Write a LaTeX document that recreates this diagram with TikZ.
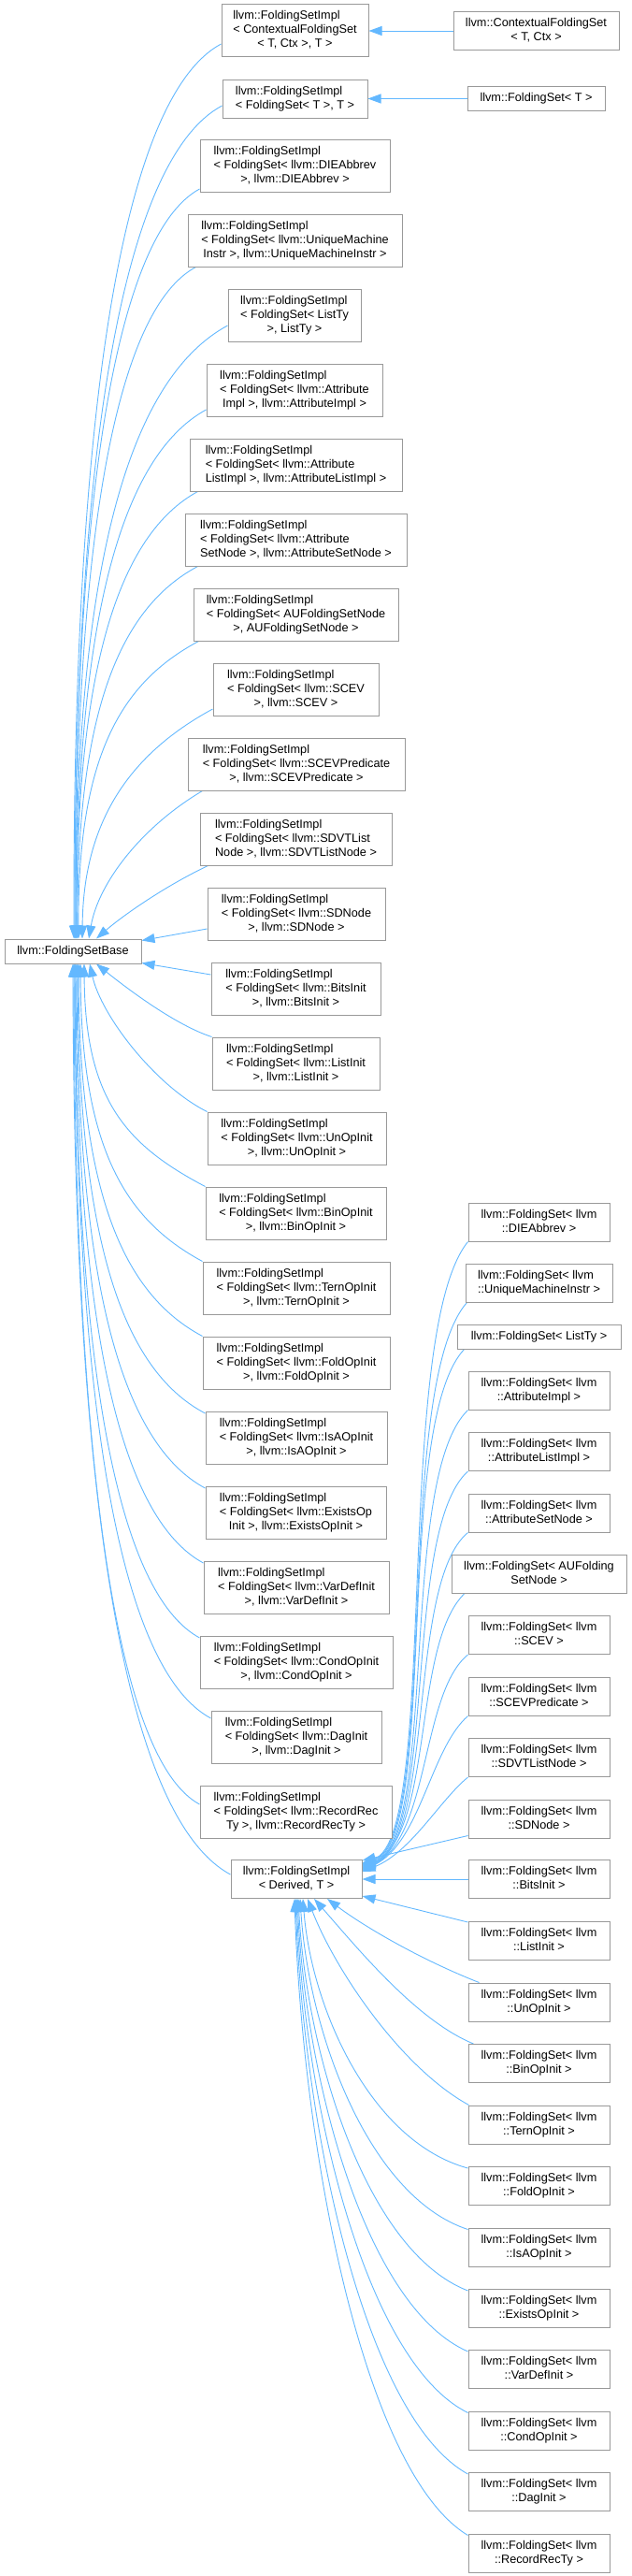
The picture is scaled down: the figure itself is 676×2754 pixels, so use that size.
\documentclass[tikz,border=0pt]{standalone}
\usepackage{fontspec}
\setmainfont{Liberation Sans}
\usetikzlibrary{arrows.meta}
\definecolor{boxgray}{HTML}{999999}
\definecolor{edgeblue}{HTML}{63B8FF}
\pgfdeclarelayer{bg}
\pgfsetlayers{bg,main}
\newcommand\lastl[1]{\multicolumn{1}{@{}c@{}}{#1}}
\newcommand\bx[6]{\node[box, minimum width=#4pt, minimum height=#5pt] (#1) at (#2,#3) {\begin{tabular}{@{}l@{}}#6\end{tabular}};}
\begin{document}
\begin{tikzpicture}[x=1pt,y=-1pt,
  box/.style={draw=boxgray, line width=1pt, fill=white, inner xsep=4pt, inner ysep=1pt, font=\fontsize{12.7}{15}\selectfont, text=black},
  edge/.style={draw=edgeblue, line width=0.9pt, -{Triangle[length=14pt,width=10pt]}}]
\useasboundingbox (0,0) rectangle (676,2754);

% base
\bx{base}{78}{1017}{146}{26}{llvm::FoldingSetBase}
% top right
\bx{cfs}{573.5}{33}{177}{41}{llvm::ContextualFoldingSet\\\lastl{< T, Ctx >}}
\bx{fst}{573.5}{105.5}{147}{26}{llvm::FoldingSet< T >}

% middle column
\bx{m1}{315.5}{33}{157}{56}{llvm::FoldingSetImpl\\< ContextualFoldingSet\\\lastl{< T, Ctx >, T >}}
\bx{m2}{315.5}{105.5}{155}{41}{llvm::FoldingSetImpl\\\lastl{< FoldingSet< T >, T >}}
\bx{m3}{315.5}{177}{203}{56}{llvm::FoldingSetImpl\\< FoldingSet< llvm::DIEAbbrev\\\lastl{>, llvm::DIEAbbrev >}}
\bx{m4}{315.5}{257}{229}{56}{llvm::FoldingSetImpl\\< FoldingSet< llvm::UniqueMachine\\\lastl{Instr >, llvm::UniqueMachineInstr >}}
\bx{m5}{315}{337}{142}{56}{llvm::FoldingSetImpl\\< FoldingSet< ListTy\\\lastl{>, ListTy >}}
\bx{m6}{315}{417}{188}{56}{llvm::FoldingSetImpl\\< FoldingSet< llvm::Attribute\\\lastl{Impl >, llvm::AttributeImpl >}}
\bx{m7}{316.5}{497}{227}{56}{llvm::FoldingSetImpl\\< FoldingSet< llvm::Attribute\\\lastl{ListImpl >, llvm::AttributeListImpl >}}
\bx{m8}{316.5}{577}{237}{56}{llvm::FoldingSetImpl\\< FoldingSet< llvm::Attribute\\\lastl{SetNode >, llvm::AttributeSetNode >}}
\bx{m9}{316.5}{657}{219}{56}{llvm::FoldingSetImpl\\< FoldingSet< AUFoldingSetNode\\\lastl{>, AUFoldingSetNode >}}
\bx{m10}{316.5}{737}{177}{56}{llvm::FoldingSetImpl\\< FoldingSet< llvm::SCEV\\\lastl{>, llvm::SCEV >}}
\bx{m11}{317}{817}{232}{56}{llvm::FoldingSetImpl\\< FoldingSet< llvm::SCEVPredicate\\\lastl{>, llvm::SCEVPredicate >}}
\bx{m12}{316.5}{897}{205}{56}{llvm::FoldingSetImpl\\< FoldingSet< llvm::SDVTList\\\lastl{Node >, llvm::SDVTListNode >}}
\bx{m13}{317}{977}{190}{56}{llvm::FoldingSetImpl\\< FoldingSet< llvm::SDNode\\\lastl{>, llvm::SDNode >}}
\bx{m14}{316.5}{1057}{181}{56}{llvm::FoldingSetImpl\\< FoldingSet< llvm::BitsInit\\\lastl{>, llvm::BitsInit >}}
\bx{m15}{316.5}{1137}{179}{56}{llvm::FoldingSetImpl\\< FoldingSet< llvm::ListInit\\\lastl{>, llvm::ListInit >}}
\bx{m16}{317.5}{1217}{191}{56}{llvm::FoldingSetImpl\\< FoldingSet< llvm::UnOpInit\\\lastl{>, llvm::UnOpInit >}}
\bx{m17}{316.5}{1297}{193}{56}{llvm::FoldingSetImpl\\< FoldingSet< llvm::BinOpInit\\\lastl{>, llvm::BinOpInit >}}
\bx{m18}{317}{1377}{200}{56}{llvm::FoldingSetImpl\\< FoldingSet< llvm::TernOpInit\\\lastl{>, llvm::TernOpInit >}}
\bx{m19}{317}{1457}{200}{56}{llvm::FoldingSetImpl\\< FoldingSet< llvm::FoldOpInit\\\lastl{>, llvm::FoldOpInit >}}
\bx{m20}{317}{1537}{194}{56}{llvm::FoldingSetImpl\\< FoldingSet< llvm::IsAOpInit\\\lastl{>, llvm::IsAOpInit >}}
\bx{m21}{316.5}{1617}{193}{56}{llvm::FoldingSetImpl\\< FoldingSet< llvm::ExistsOp\\\lastl{Init >, llvm::ExistsOpInit >}}
\bx{m22}{317}{1697}{198}{56}{llvm::FoldingSetImpl\\< FoldingSet< llvm::VarDefInit\\\lastl{>, llvm::VarDefInit >}}
\bx{m23}{317}{1777}{206}{56}{llvm::FoldingSetImpl\\< FoldingSet< llvm::CondOpInit\\\lastl{>, llvm::CondOpInit >}}
\bx{m24}{317}{1857}{182}{56}{llvm::FoldingSetImpl\\< FoldingSet< llvm::DagInit\\\lastl{>, llvm::DagInit >}}
\bx{m25}{316.5}{1937}{205}{56}{llvm::FoldingSetImpl\\< FoldingSet< llvm::RecordRec\\\lastl{Ty >, llvm::RecordRecTy >}}
\bx{d}{317}{2009}{140}{41}{llvm::FoldingSetImpl\\\lastl{< Derived, T >}}

% right column
\bx{r1}{576.5}{1306.5}{151}{41}{llvm::FoldingSet< llvm\\\lastl{::DIEAbbrev >}}
\bx{r2}{576.5}{1371.5}{157}{41}{llvm::FoldingSet< llvm\\\lastl{::UniqueMachineInstr >}}
\bx{r3}{576.5}{1429}{175}{26}{llvm::FoldingSet< ListTy >}
\bx{r4}{576.5}{1486.5}{151}{41}{llvm::FoldingSet< llvm\\\lastl{::AttributeImpl >}}
\bx{r5}{576.5}{1552}{151}{41}{llvm::FoldingSet< llvm\\\lastl{::AttributeListImpl >}}
\bx{r6}{576.5}{1617.5}{151}{41}{llvm::FoldingSet< llvm\\\lastl{::AttributeSetNode >}}
\bx{r7}{576.5}{1683}{187}{41}{llvm::FoldingSet< AUFolding\\\lastl{SetNode >}}
\bx{r8}{576.5}{1748}{151}{41}{llvm::FoldingSet< llvm\\\lastl{::SCEV >}}
\bx{r9}{576.5}{1813.5}{151}{41}{llvm::FoldingSet< llvm\\\lastl{::SCEVPredicate >}}
\bx{r10}{576.5}{1879}{151}{41}{llvm::FoldingSet< llvm\\\lastl{::SDVTListNode >}}
\bx{r11}{576.5}{1944.5}{151}{41}{llvm::FoldingSet< llvm\\\lastl{::SDNode >}}
\bx{r12}{576.5}{2009}{151}{41}{llvm::FoldingSet< llvm\\\lastl{::BitsInit >}}
\bx{r13}{576.5}{2075}{151}{41}{llvm::FoldingSet< llvm\\\lastl{::ListInit >}}
\bx{r14}{576.5}{2140.5}{151}{41}{llvm::FoldingSet< llvm\\\lastl{::UnOpInit >}}
\bx{r15}{576.5}{2206}{151}{41}{llvm::FoldingSet< llvm\\\lastl{::BinOpInit >}}
\bx{r16}{576.5}{2271.5}{151}{41}{llvm::FoldingSet< llvm\\\lastl{::TernOpInit >}}
\bx{r17}{576.5}{2337}{151}{41}{llvm::FoldingSet< llvm\\\lastl{::FoldOpInit >}}
\bx{r18}{576.5}{2402.5}{151}{41}{llvm::FoldingSet< llvm\\\lastl{::IsAOpInit >}}
\bx{r19}{576.5}{2468}{151}{41}{llvm::FoldingSet< llvm\\\lastl{::ExistsOpInit >}}
\bx{r20}{576.5}{2533}{151}{41}{llvm::FoldingSet< llvm\\\lastl{::VarDefInit >}}
\bx{r21}{576.5}{2598.5}{151}{41}{llvm::FoldingSet< llvm\\\lastl{::CondOpInit >}}
\bx{r22}{576.5}{2664}{151}{41}{llvm::FoldingSet< llvm\\\lastl{::DagInit >}}
\bx{r23}{576.5}{2729.5}{151}{41}{llvm::FoldingSet< llvm\\\lastl{::RecordRecTy >}}

\begin{pgfonlayer}{bg}
% top right
\draw[edge] (cfs.west) -- (m1.east);
\draw[edge] (fst.west) -- (m2.east);
% middle upper -> base
\draw[edge] ([yshift=-14pt]m1.west) .. controls (134,102) and (78,420) .. ([xshift=1pt]base.north);
\draw[edge] ([yshift=-7.5pt]m2.west) .. controls (135,168) and (79,460) .. ([xshift=2pt]base.north);
\draw[edge] ([yshift=-25pt]m3.west) .. controls (127,249) and (79,515) .. ([xshift=2pt]base.north);
\draw[edge] ([xshift=9pt]m4.south west) .. controls (126,330) and (80,565) .. ([xshift=3pt]base.north);
\draw[edge] ([yshift=-11pt]m5.west) .. controls (138,405) and (80,604) .. ([xshift=3pt]base.north);
\draw[edge] ([yshift=-21pt]m6.west) .. controls (131,487) and (81,659) .. ([xshift=4pt]base.north);
\draw[edge] ([xshift=9pt]m7.south west) .. controls (128,571) and (81,712) .. ([xshift=4pt]base.north);
\draw[edge] ([xshift=14pt]m8.south west) .. controls (128,650) and (82,761) .. ([xshift=5pt]base.north);
\draw[edge] ([xshift=6pt]m9.south west) .. controls (129,730) and (83,809) .. ([xshift=6pt]base.north);
\draw[edge] ([yshift=-21pt]m10.west) .. controls (137,807) and (89,880) .. ([xshift=10pt]base.north);
\draw[edge] ([xshift=16pt]m11.south west) .. controls (150,885) and (105,945) .. ([xshift=17pt]base.north);
\draw[edge] ([xshift=9pt]m12.south west) .. controls (175,948) and (130,980) .. ([xshift=25pt]base.north);
\draw[edge] ([yshift=-16pt]m13.west) -- ([yshift=-2pt]base.north east);
% middle lower -> base
\draw[edge] ([yshift=15pt]m14.west) -- ([yshift=1pt]base.south east);
\draw[edge] (m15.north west) .. controls (185,1095) and (130,1052) .. ([xshift=25pt]base.south);
\draw[edge] (m16.north west) .. controls (165,1160) and (108,1085) .. ([xshift=18pt]base.south);
\draw[edge] (m17.north west) .. controls (135,1224) and (91,1176) .. ([xshift=12pt]base.south);
\draw[edge] (m18.north west) .. controls (132,1303) and (87,1225) .. ([xshift=8pt]base.south);
\draw[edge] (m19.north west) .. controls (131,1383) and (85,1274) .. ([xshift=6pt]base.south);
\draw[edge] ([yshift=26pt]m20.west) .. controls (130,1464) and (84,1323) .. ([xshift=5pt]base.south);
\draw[edge] ([yshift=26pt]m21.west) .. controls (130,1543) and (83,1372) .. ([xshift=4pt]base.south);
\draw[edge] ([yshift=26pt]m22.west) .. controls (129,1623) and (82,1421) .. ([xshift=3pt]base.south);
\draw[edge] ([yshift=26pt]m23.west) .. controls (127,1704) and (81,1470) .. ([xshift=2pt]base.south);
\draw[edge] ([yshift=20pt]m24.west) .. controls (131,1786) and (81,1522) .. ([xshift=2pt]base.south);
\draw[edge] ([yshift=8pt]m25.west) .. controls (126,1882) and (80,1578) .. ([xshift=1pt]base.south);
\draw[edge] ([yshift=5pt]d.west) .. controls (137,1945) and (79,1624) .. (base.south);
% right upper -> derived
\draw[edge] (r1.south west) .. controls (420,1427) and (470,1962) .. ([yshift=17pt]d.east);
\draw[edge] ([xshift=2pt]r2.south west) .. controls (420,1482) and (470,1963) .. ([yshift=16pt]d.east);
\draw[edge] ([xshift=8pt]r3.south west) .. controls (420,1525) and (470,1964) .. ([yshift=15pt]d.east);
\draw[edge] (r4.south west) .. controls (425,1580) and (470,1965) .. ([yshift=14pt]d.east);
\draw[edge] (r5.south west) .. controls (430,1636) and (468,1966) .. ([yshift=13pt]d.east);
\draw[edge] (r6.south west) .. controls (435,1692) and (466,1967) .. ([yshift=12pt]d.east);
\draw[edge] ([xshift=14pt]r7.south west) .. controls (440,1760) and (465,1960) .. ([yshift=11pt]d.east);
\draw[edge] (r8.south west) .. controls (450,1810) and (460,1965) .. ([yshift=10pt]d.east);
\draw[edge] (r9.south west) .. controls (460,1870) and (450,1970) .. ([yshift=9pt]d.east);
\draw[edge] (r10.south west) .. controls (470,1925) and (440,1980) .. ([yshift=8pt]d.east);
\draw[edge] ([yshift=-18pt]r11.west) -- ([yshift=-1pt]d.north east);
\draw[edge] (r12.west) -- (d.east);
\draw[edge] ([yshift=20pt]r13.west) -- ([yshift=3pt]d.south east);
% right lower -> derived
\draw[edge] ([xshift=12pt]r14.north west) .. controls (450,2095) and (390,2060) .. ([xshift=33pt]d.south);
\draw[edge] ([xshift=6pt]r15.north west) .. controls (445,2160) and (380,2080) .. ([xshift=19pt]d.south);
\draw[edge] ([xshift=1pt]r16.north west) .. controls (428,2210) and (358,2105) .. ([xshift=12pt]d.south);
\draw[edge] ([yshift=-2pt]r17.north west) .. controls (395,2289) and (333,2145) .. ([xshift=7pt]d.south);
\draw[edge] ([yshift=-2pt]r18.north west) .. controls (393,2348) and (330,2171) .. ([xshift=4pt]d.south);
\draw[edge] ([yshift=-2pt]r19.north west) .. controls (392,2407) and (328,2198) .. ([xshift=2pt]d.south);
\draw[edge] ([yshift=-2pt]r20.north west) .. controls (391,2466) and (327,2224) .. ([xshift=1pt]d.south);
\draw[edge] ([yshift=-2pt]r21.north west) .. controls (391,2525) and (326,2250) .. (d.south);
\draw[edge] ([yshift=-2pt]r22.north west) .. controls (390,2584) and (325,2276) .. ([xshift=-1pt]d.south);
\draw[edge] ([yshift=-2pt]r23.north west) .. controls (389,2643) and (324,2302) .. ([xshift=-2pt]d.south);
\end{pgfonlayer}
\end{tikzpicture}
\end{document}
